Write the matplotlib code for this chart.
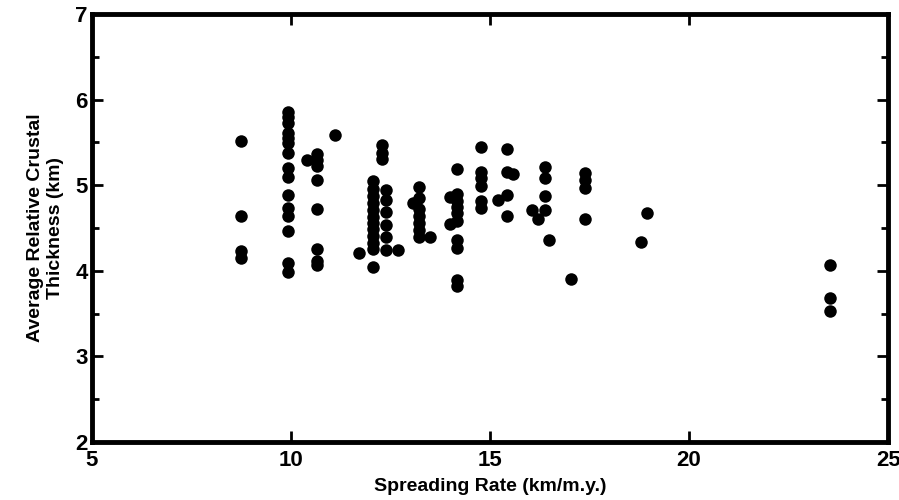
import matplotlib
matplotlib.use("Agg")
import matplotlib.pyplot as plt
from matplotlib.ticker import MultipleLocator

# spreading rate (km/m.y.) and crustal thickness (km)
rate = [
    8.75, 8.75, 8.75, 8.75,
    9.92, 9.92, 9.92, 9.92, 9.92, 9.92, 9.92, 9.92, 9.92, 9.92, 9.92, 9.92, 9.92, 9.92, 9.92,
    10.41,
    10.66, 10.66, 10.66, 10.66, 10.66, 10.66, 10.66, 10.66,
    11.12, 11.7,
    12.07, 12.07, 12.07, 12.07, 12.07, 12.07, 12.07, 12.07, 12.07, 12.07, 12.07, 12.07,
    12.3, 12.3, 12.3,
    12.38, 12.38, 12.38, 12.38, 12.38, 12.38,
    12.68, 13.07,
    13.22, 13.22, 13.22, 13.22, 13.22, 13.22, 13.22,
    13.49, 14.0, 14.0,
    14.18, 14.18, 14.18, 14.18, 14.18, 14.18, 14.18, 14.18, 14.18, 14.18,
    14.77, 14.77, 14.77, 14.77, 14.77, 14.77,
    15.21,
    15.42, 15.42, 15.42, 15.42,
    15.59, 16.05, 16.2,
    16.38, 16.38, 16.38, 16.38,
    16.48, 17.03,
    17.39, 17.39, 17.39, 17.39,
    18.79, 18.94,
    23.53, 23.53, 23.53,
]
thickness = [
    5.52, 4.64, 4.23, 4.15,
    5.86, 5.80, 5.73, 5.61, 5.55, 5.49, 5.38, 5.20, 5.10, 4.88, 4.73, 4.64, 4.46, 4.09, 3.99,
    5.29,
    5.37, 5.30, 5.22, 5.06, 4.72, 4.25, 4.12, 4.07,
    5.59, 4.21,
    5.05, 4.96, 4.87, 4.79, 4.71, 4.63, 4.56, 4.49, 4.41, 4.33, 4.26, 4.04,
    5.47, 5.38, 5.31,
    4.94, 4.83, 4.69, 4.54, 4.40, 4.24,
    4.24, 4.79,
    4.98, 4.85, 4.72, 4.64, 4.56, 4.48, 4.40,
    4.39, 4.86, 4.55,
    5.19, 4.90, 4.82, 4.75, 4.68, 4.58, 4.36, 4.27, 3.89, 3.82,
    5.45, 5.16, 5.08, 4.99, 4.81, 4.73,
    4.83,
    5.42, 5.16, 4.88, 4.64,
    5.13, 4.71, 4.60,
    5.21, 5.08, 4.87, 4.71,
    4.36, 3.90,
    5.14, 5.06, 4.97, 4.60,
    4.34, 4.67,
    4.07, 3.68, 3.53,
]

plt.rcParams['font.family'] = ['Liberation Sans', 'DejaVu Sans']
plt.rcParams['font.weight'] = 'bold'

fig = plt.figure(figsize=(8.99, 5.0), dpi=100)
ax = fig.add_axes([0.102, 0.116, 0.886, 0.856])

ax.plot(rate, thickness, 'o', color='black', markersize=9, markeredgewidth=0)

ax.set_xlim(5, 25)
ax.set_ylim(2, 7)
ax.xaxis.set_major_locator(MultipleLocator(5))
ax.yaxis.set_major_locator(MultipleLocator(1))
ax.yaxis.set_minor_locator(MultipleLocator(0.5))

for s in ax.spines.values():
    s.set_linewidth(3.5)

ax.tick_params(which='both', direction='in', top=True, right=True, width=2)
ax.tick_params(which='major', length=8, labelsize=16, pad=3)
ax.tick_params(axis='x', which='major', pad=6)
ax.tick_params(which='minor', length=5)
ax.tick_params(axis='x', which='minor', bottom=False, top=False)

ax.set_xlabel('Spreading Rate (km/m.y.)', fontsize=14, fontweight='bold', labelpad=5)
ax.set_ylabel('Average Relative Crustal\nThickness (km)', fontsize=14, fontweight='bold',
              labelpad=8, linespacing=1.2)

fig.savefig('out.png', dpi=100)
